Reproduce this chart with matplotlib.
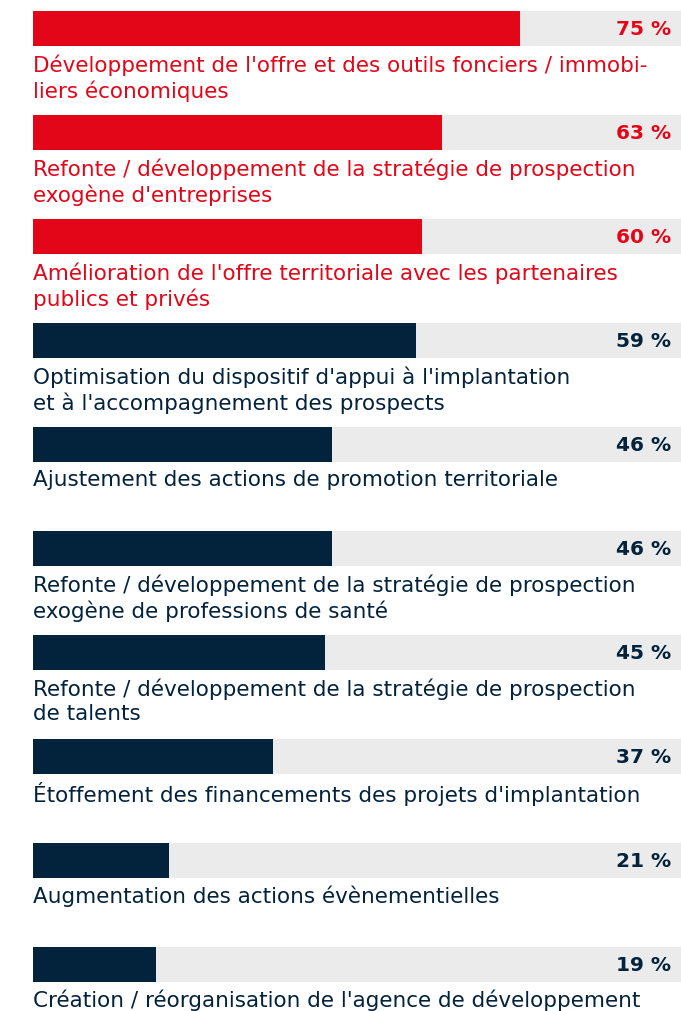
import matplotlib.pyplot as plt

labels = [
    "Développement de l'offre et des outils fonciers / immobi-\nliers économiques",
    "Refonte / développement de la stratégie de prospection\nexogène d'entreprises",
    "Amélioration de l'offre territoriale avec les partenaires\npublics et privés",
    "Optimisation du dispositif d'appui à l'implantation\net à l'accompagnement des prospects",
    "Ajustement des actions de promotion territoriale",
    "Refonte / développement de la stratégie de prospection\nexogène de professions de santé",
    "Refonte / développement de la stratégie de prospection\nde talents",
    "Étoffement des financements des projets d'implantation",
    "Augmentation des actions évènementielles",
    "Création / réorganisation de l'agence de développement",
]
values = [75, 63, 60, 59, 46, 46, 45, 37, 21, 19]
highlight = [True, True, True, False, False, False, False, False, False, False]

RED = '#E30618'
NAVY = '#03223C'
GREY = '#EBEBEB'

W, H = 681, 1012
fig = plt.figure(figsize=(W / 100, H / 100), dpi=100)
# x: 0 -> pixel 33, 100 -> pixel 682
ax = fig.add_axes([33 / W, 0, 649 / W, 1])
row = 104
first = 29.5
ax.set_xlim(0, 100)
ax.set_ylim((H - first) / row, -first / row)
ax.axis('off')

bar_h = 35 / row
for i, (lab, v, hl) in enumerate(zip(labels, values, highlight)):
    c = RED if hl else NAVY
    ax.barh(i, 100, height=bar_h, color=GREY, left=0)
    ax.barh(i, v, height=bar_h, color=c, left=0)
    ax.text(98.3, i, f'{v} %', ha='right', va='center', fontsize=14.5,
            fontweight='bold', color=c)
    ax.text(0, i + bar_h / 2 + 7 / row, lab, ha='left', va='top', fontsize=15.5,
            color=c, linespacing=1.3)

fig.savefig('out.png', dpi=100)
